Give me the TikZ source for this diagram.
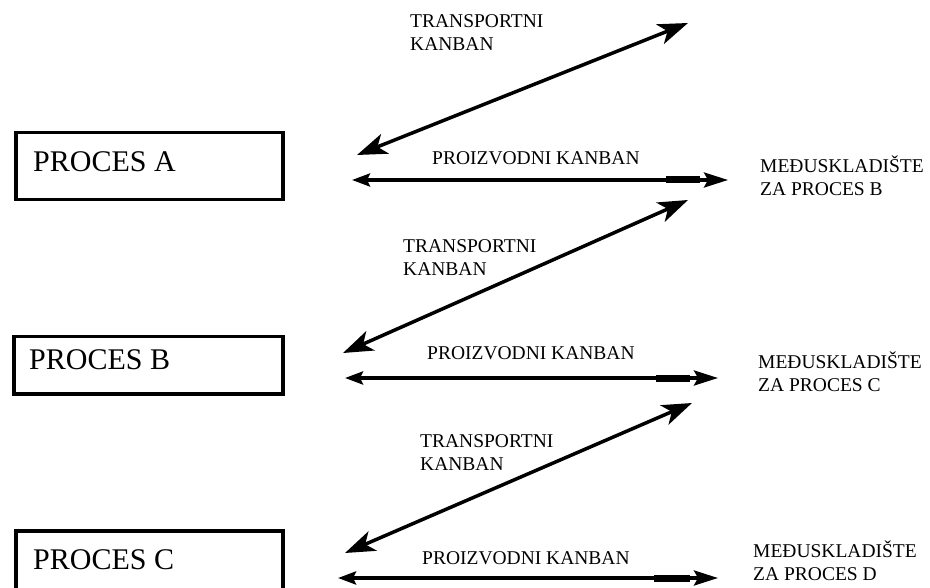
\documentclass[tikz,border=0pt]{standalone}
\usepackage{fontspec}
\setmainfont{Liberation Serif}
\usetikzlibrary{arrows.meta}
\begin{document}
\begin{tikzpicture}[x=1pt,y=-1pt,
  procbox/.style={draw,line width=3.5pt,minimum width=267pt,anchor=north west,inner sep=0pt},
  proctext/.style={font=\fontsize{30}{32}\selectfont,anchor=west,inner sep=0pt},
  lbl/.style={font=\fontsize{19.5}{23}\selectfont,anchor=west,inner sep=0pt,align=left},
  transarrow/.style={line width=3.5pt,{Stealth[length=30pt,width=21pt,inset=8pt]}-{Stealth[length=30pt,width=21pt,inset=8pt]}},
  prodarrow/.style={line width=3.5pt,{Stealth[length=18pt,width=13pt,inset=3pt]}-{Stealth[length=24pt,width=15pt,inset=4pt]}},
  thickpart/.style={line width=7pt}]
\useasboundingbox (0,0) rectangle (930,588);
% boxes
\node[procbox,minimum height=67pt] (boxA) at (14,131) {};
\node[proctext] (tA) at (33,162) {PROCES A};
\node[procbox,minimum height=57pt,minimum width=269pt] (boxB) at (12,335) {};
\node[proctext] (tB) at (29,360) {PROCES B};
\node[procbox,minimum height=66pt] (boxC) at (14,529) {};
\node[proctext] (tC) at (33,560) {PROCES C};
% row 1
\coordinate (t1a) at (357,155); \coordinate (t1b) at (688,23);
\draw[transarrow] (t1a) -- (t1b);
\node[lbl] (tl1) at (410,33) {TRANSPORTNI\\KANBAN};
\coordinate (p1a) at (352,180); \coordinate (p1b) at (728,180);
\coordinate (k1a) at (666,180); \coordinate (k1b) at (700,180);
\draw[prodarrow] (p1a) -- (p1b);
\draw[thickpart] (k1a) -- (k1b);
\node[lbl] (pl1) at (432,158) {PROIZVODNI KANBAN};
\node[lbl] (m1) at (760,176) {MEĐUSKLADIŠTE\\ZA PROCES B};
% row 2
\coordinate (t2a) at (343,353); \coordinate (t2b) at (688,200);
\draw[transarrow] (t2a) -- (t2b);
\node[lbl] (tl2) at (403,258) {TRANSPORTNI\\KANBAN};
\coordinate (p2a) at (345,378); \coordinate (p2b) at (718,378);
\coordinate (k2a) at (656,378); \coordinate (k2b) at (690,378);
\draw[prodarrow] (p2a) -- (p2b);
\draw[thickpart] (k2a) -- (k2b);
\node[lbl] (pl2) at (427,353) {PROIZVODNI KANBAN};
\node[lbl] (m2) at (758,372) {MEĐUSKLADIŠTE\\ZA PROCES C};
% row 3
\coordinate (t3a) at (345,553); \coordinate (t3b) at (692,403);
\draw[transarrow] (t3a) -- (t3b);
\node[lbl] (tl3) at (420,453) {TRANSPORTNI\\KANBAN};
\coordinate (p3a) at (338,578); \coordinate (p3b) at (718,578);
\coordinate (k3a) at (654,578); \coordinate (k3b) at (690,578);
\draw[prodarrow] (p3a) -- (p3b);
\draw[thickpart] (k3a) -- (k3b);
\node[lbl] (pl3) at (422,558) {PROIZVODNI KANBAN};
\node[lbl] (m3) at (753,561) {MEĐUSKLADIŠTE\\ZA PROCES D};
\end{tikzpicture}
\end{document}
